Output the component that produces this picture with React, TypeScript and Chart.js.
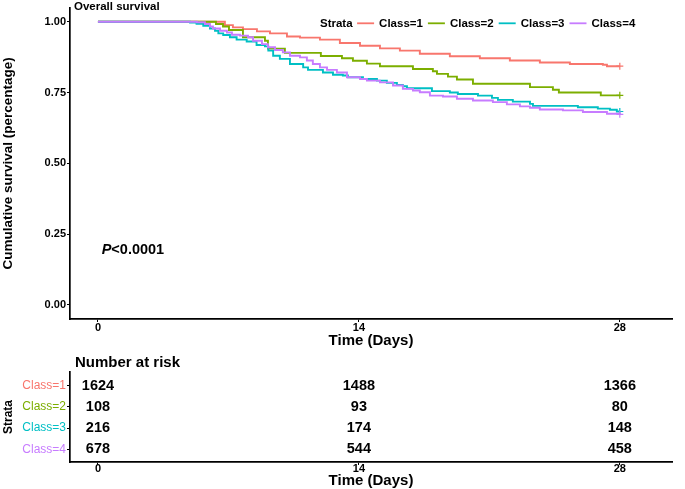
import React, { useEffect, useRef } from "react";
import { Chart, registerables } from "chart.js";

Chart.register(...registerables);

const FONT = "'Liberation Sans', Arial, sans-serif";

const CLASS_LABELS = ["Class=1", "Class=2", "Class=3", "Class=4"];
const COLORS = ["#F8766D", "#7CAE00", "#00BFC4", "#C77CFF"];

const X_TICKS = [0, 14, 28];
const Y_TICKS = [0, 0.25, 0.5, 0.75, 1];

const timesC1 = [0, 6.33, 6.81, 7.24, 7.78, 8.53, 9.23, 10.14, 10.84, 11.91, 12.98, 14.06, 15.13, 16.2, 17.27, 18.88, 20.49, 22.1, 23.71, 25.32, 27.09, 27.31, 28];
const survC1 = [1, 1, 0.988, 0.98, 0.974, 0.966, 0.959, 0.948, 0.944, 0.937, 0.925, 0.915, 0.906, 0.898, 0.887, 0.878, 0.871, 0.863, 0.856, 0.851, 0.848, 0.843, 0.843];

const timesC2 = [0, 6.33, 6.71, 7.03, 7.78, 8.96, 9.12, 10.03, 11.96, 13.09, 13.68, 14.43, 15.13, 16.9, 17.97, 18.19, 18.78, 19.26, 20.12, 23.18, 24.41, 24.73, 26.98, 28];
const survC2 = [1, 0.992, 0.983, 0.971, 0.945, 0.933, 0.905, 0.89, 0.879, 0.871, 0.862, 0.852, 0.843, 0.833, 0.825, 0.816, 0.806, 0.796, 0.781, 0.769, 0.76, 0.75, 0.74, 0.74];

const timesC3 = [0, 4.94, 5.29, 5.65, 6.01, 6.28, 6.46, 6.72, 7.08, 7.44, 7.98, 8.51, 8.96, 9.14, 9.4, 9.76, 10.3, 11.01, 11.27, 12.07, 12.61, 13.14, 13.41, 14.22, 14.97, 15.5, 16.04, 16.36, 16.58, 17.92, 18.88, 19.31, 20.39, 21.14, 21.46, 22.26, 23.18, 23.34, 25.75, 26.82, 27.47, 27.84, 28];
const survC3 = [1, 0.997, 0.993, 0.986, 0.976, 0.968, 0.959, 0.953, 0.945, 0.937, 0.93, 0.918, 0.913, 0.898, 0.88, 0.869, 0.851, 0.839, 0.83, 0.821, 0.813, 0.81, 0.804, 0.798, 0.792, 0.784, 0.777, 0.772, 0.765, 0.755, 0.75, 0.745, 0.739, 0.731, 0.724, 0.718, 0.71, 0.703, 0.698, 0.693, 0.689, 0.683, 0.683];

const timesC4 = [0, 5.31, 5.74, 6.01, 6.17, 6.55, 6.92, 7.19, 7.62, 8.05, 8.32, 8.8, 9.12, 9.5, 9.92, 10.3, 10.84, 11.21, 11.53, 11.91, 12.29, 12.82, 13.36, 14.06, 14.43, 15.13, 15.83, 16.36, 16.9, 17.27, 17.81, 18.51, 19.26, 20.12, 21.19, 21.94, 22.64, 23.18, 23.71, 24.95, 26.02, 27.31, 28];
const survC4 = [1, 0.998, 0.992, 0.983, 0.976, 0.968, 0.962, 0.954, 0.951, 0.945, 0.933, 0.921, 0.91, 0.9, 0.892, 0.88, 0.874, 0.863, 0.851, 0.839, 0.83, 0.821, 0.804, 0.798, 0.792, 0.786, 0.775, 0.763, 0.757, 0.751, 0.739, 0.736, 0.728, 0.722, 0.716, 0.708, 0.701, 0.696, 0.69, 0.687, 0.681, 0.675, 0.673];

const RISK_TIMES = [0, 14, 28];
const riskC1 = [1624, 1488, 1366];
const riskC2 = [108, 93, 80];
const riskC3 = [216, 174, 148];
const riskC4 = [678, 544, 458];

const PLOT_TITLE = "Overall survival";
const LEGEND_TITLE = "Strata";
const Y_TITLE = "Cumulative survival (percentage)";
const X_TITLE = "Time (Days)";
const RISK_TITLE = "Number at risk";
const P_TEXT = "<0.0001";
const P_COORD = [0.2, 0.18];

const X_MIN = -1.5;
const X_MAX = 30.8;

const W = 685;
const MAIN_H = 350;
const RISK_H = 139;

function mkData(ts: number[], ss: number[]) {
  return ts.map((t, i) => ({ x: t, y: ss[i] }));
}

const axisGrid = {
  display: true,
  drawOnChartArea: false,
  drawTicks: true,
  tickLength: 3,
  color: "#000",
  lineWidth: 1,
};
const axisBorder = { display: true, color: "#000", width: 1.7 };

export default function App() {
  const mainRef = useRef<HTMLCanvasElement>(null);
  const riskRef = useRef<HTMLCanvasElement>(null);

  useEffect(() => {
    const seriesT = [timesC1, timesC2, timesC3, timesC4];
    const seriesS = [survC1, survC2, survC3, survC4];

    const mainDecor = {
      id: "mainDecor",
      afterDraw(chart: any) {
        const { ctx, chartArea, scales } = chart;
        ctx.save();
        ctx.fillStyle = "#000";
        ctx.textBaseline = "alphabetic";
        ctx.textAlign = "left";
        ctx.font = `bold 11.5px ${FONT}`;
        ctx.fillText(PLOT_TITLE, chartArea.left + 4, 9.5);
        // legend
        let x = 320;
        const ty = 27.3;
        const ly = 23.3;
        ctx.fillText(LEGEND_TITLE, x, ty);
        x += ctx.measureText(LEGEND_TITLE).width + 4.5;
        CLASS_LABELS.forEach((lab, i) => {
          ctx.strokeStyle = COLORS[i];
          ctx.lineWidth = 1.8;
          ctx.beginPath();
          ctx.moveTo(x, ly);
          ctx.lineTo(x + 17, ly);
          ctx.stroke();
          x += 17 + 5;
          ctx.fillStyle = "#000";
          ctx.fillText(lab, x, ty);
          x += ctx.measureText(lab).width + 5;
        });
        // p-value
        const px = scales.x.getPixelForValue(P_COORD[0]);
        const py = scales.y.getPixelForValue(P_COORD[1]);
        ctx.font = `italic bold 14.5px ${FONT}`;
        ctx.fillText("P", px, py);
        const w = ctx.measureText("P").width;
        ctx.font = `bold 14.5px ${FONT}`;
        ctx.fillText(P_TEXT, px + w, py);
        ctx.restore();
      },
    };

    const main = new Chart(mainRef.current!, {
      type: "line",
      data: {
        datasets: CLASS_LABELS.map((lab, i) => {
          const n = seriesT[i].length;
          return {
            label: lab,
            data: mkData(seriesT[i], seriesS[i]),
            borderColor: COLORS[i],
            backgroundColor: COLORS[i],
            borderWidth: 1.9,
            stepped: "before" as const,
            fill: false,
            order: 4 - i,
            pointStyle: "cross",
            pointRadius: seriesT[i].map((_, k) => (k === n - 1 ? 3.5 : 0)),
            pointBorderWidth: 1.2,
            pointBorderColor: COLORS[i],
          };
        }),
      },
      options: {
        animation: false,
        responsive: false,
        devicePixelRatio: 1,
        layout: { padding: { top: 7, right: 13, left: 0, bottom: 0 } },
        plugins: { legend: { display: false }, title: { display: false }, tooltip: { enabled: false } },
        scales: {
          x: {
            type: "linear",
            min: X_MIN,
            max: X_MAX,
            afterBuildTicks: (s: any) => {
              s.ticks = X_TICKS.map((v) => ({ value: v }));
            },
            afterFit: (s: any) => {
              s.height = MAIN_H - 319;
            },
            grid: axisGrid,
            border: axisBorder,
            ticks: {
              color: "#000",
              font: { family: FONT, size: 11, weight: "bold" },
              padding: -1,
              maxRotation: 0,
              callback: (v: any) => String(v),
            },
            title: {
              display: true,
              text: X_TITLE,
              color: "#000",
              font: { family: FONT, size: 15, weight: "bold" },
              padding: { top: 0, bottom: 0.5 },
            },
          },
          y: {
            type: "linear",
            min: -0.05,
            max: 1.05,
            afterBuildTicks: (s: any) => {
              s.ticks = Y_TICKS.map((v) => ({ value: v }));
            },
            afterFit: (s: any) => {
              s.width = 70;
            },
            grid: axisGrid,
            border: axisBorder,
            ticks: {
              color: "#000",
              font: { family: FONT, size: 11, weight: "bold" },
              padding: 1,
              callback: (v: any) => Number(v).toFixed(2),
            },
            title: {
              display: true,
              text: Y_TITLE,
              color: "#000",
              font: { family: FONT, size: 13.5, weight: "bold" },
              padding: { top: 0, bottom: 0 },
            },
          },
        },
      },
      plugins: [mainDecor],
    });

    const riskRows = [riskC1, riskC2, riskC3, riskC4];
    const riskDecor = {
      id: "riskDecor",
      afterDraw(chart: any) {
        const { ctx, chartArea, scales } = chart;
        ctx.save();
        ctx.fillStyle = "#000";
        ctx.font = `bold 14.5px ${FONT}`;
        ctx.textAlign = "center";
        ctx.textBaseline = "middle";
        riskRows.forEach((row, i) => {
          row.forEach((v, j) => {
            ctx.fillText(String(v), scales.x.getPixelForValue(RISK_TIMES[j]), scales.y.getPixelForValue(i + 1));
          });
        });
        ctx.textAlign = "left";
        ctx.textBaseline = "alphabetic";
        ctx.font = `bold 15px ${FONT}`;
        ctx.fillText(RISK_TITLE, chartArea.left + 5, 16.5);
        ctx.restore();
      },
    };

    const risk = new Chart(riskRef.current!, {
      type: "scatter",
      data: { datasets: [] },
      options: {
        animation: false,
        responsive: false,
        devicePixelRatio: 1,
        layout: { padding: { top: 22, right: 13, left: 0, bottom: 0 } },
        plugins: { legend: { display: false }, title: { display: false }, tooltip: { enabled: false } },
        scales: {
          x: {
            type: "linear",
            min: X_MIN,
            max: X_MAX,
            afterBuildTicks: (s: any) => {
              s.ticks = X_TICKS.map((v) => ({ value: v }));
            },
            afterFit: (s: any) => {
              s.height = 27;
            },
            grid: axisGrid,
            border: axisBorder,
            ticks: {
              color: "#000",
              font: { family: FONT, size: 11, weight: "bold" },
              padding: -2.5,
              maxRotation: 0,
              callback: (v: any) => String(v),
            },
            title: {
              display: true,
              text: X_TITLE,
              color: "#000",
              font: { family: FONT, size: 15, weight: "bold" },
              padding: { top: 0, bottom: -0.5 },
            },
          },
          y: {
            type: "linear",
            min: 0.35,
            max: 4.6,
            reverse: true,
            afterBuildTicks: (s: any) => {
              s.ticks = [1, 2, 3, 4].map((v) => ({ value: v }));
            },
            afterFit: (s: any) => {
              s.width = 70;
            },
            grid: axisGrid,
            border: axisBorder,
            ticks: {
              color: (c: any) => COLORS[c.index] || "#000",
              font: { family: FONT, size: 12 },
              padding: 1,
              callback: (v: any) => CLASS_LABELS[Math.round(Number(v)) - 1] || "",
            },
            title: {
              display: true,
              text: LEGEND_TITLE,
              color: "#000",
              font: { family: FONT, size: 12, weight: "bold" },
              padding: { top: 1, bottom: 0 },
            },
          },
        },
      },
      plugins: [riskDecor],
    });

    return () => {
      main.destroy();
      risk.destroy();
    };
  }, []);

  return (
    <div style={{ position: "absolute", left: 0, top: 0, width: W, height: MAIN_H + RISK_H, background: "#fff" }}>
      <canvas
        ref={mainRef}
        width={W}
        height={MAIN_H}
        style={{ position: "absolute", left: 0, top: 0, width: W, height: MAIN_H }}
      />
      <canvas
        ref={riskRef}
        width={W}
        height={RISK_H}
        style={{ position: "absolute", left: 0, top: MAIN_H, width: W, height: RISK_H }}
      />
    </div>
  );
}
